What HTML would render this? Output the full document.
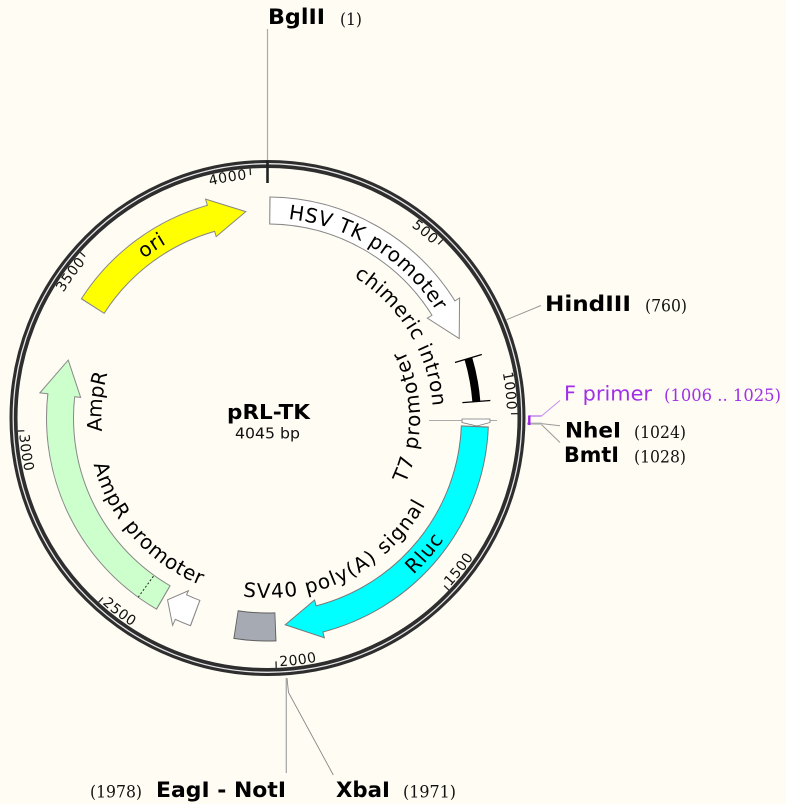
<!DOCTYPE html>
<html><head><meta charset="utf-8">
<style>
html,body{margin:0;padding:0;background:#fffcf3;}
svg{display:block;}
text{font-family:"DejaVu Sans","Liberation Sans",sans-serif;}
.num{font-family:"DejaVu Serif","Liberation Serif",serif;font-size:17px;fill:#111;}
.site{font-weight:bold;font-size:21px;fill:#000;}
.tk{font-size:14px;letter-spacing:0.6px;fill:#111;}
.fl{font-size:20px;fill:#000;}
</style></head><body>
<svg width="786" height="804" viewBox="0 0 786 804" xmlns="http://www.w3.org/2000/svg">
<defs>
<path id="tw" d="M267.5,178.5 A239.5,239.5 0 1 1 267.5,657.5 A239.5,239.5 0 1 1 267.5,178.5 A239.5,239.5 0 1 1 267.5,657.5 A239.5,239.5 0 1 1 267.5,178.5"/>
<path id="tc" d="M267.5,666.5 A248.5,248.5 0 1 0 267.5,169.5 A248.5,248.5 0 1 0 267.5,666.5 A248.5,248.5 0 1 0 267.5,169.5 A248.5,248.5 0 1 0 267.5,666.5"/>
<path id="hsv" d="M267.5,218 A200,200 0 1 1 267.5,618 A200,200 0 1 1 267.5,218 A200,200 0 1 1 267.5,618 A200,200 0 1 1 267.5,218"/>
<path id="chi" d="M267.5,252.5 A165.5,165.5 0 1 1 267.5,583.5 A165.5,165.5 0 1 1 267.5,252.5 A165.5,165.5 0 1 1 267.5,583.5 A165.5,165.5 0 1 1 267.5,252.5"/>
<path id="t7" d="M267.5,570.5 A152.5,152.5 0 1 0 267.5,265.5 A152.5,152.5 0 1 0 267.5,570.5 A152.5,152.5 0 1 0 267.5,265.5 A152.5,152.5 0 1 0 267.5,570.5"/>
<path id="rl" d="M267.5,632 A214,214 0 1 0 267.5,204 A214,214 0 1 0 267.5,632 A214,214 0 1 0 267.5,204 A214,214 0 1 0 267.5,632"/>
<path id="sv" d="M267.5,598 A180,180 0 1 0 267.5,238 A180,180 0 1 0 267.5,598 A180,180 0 1 0 267.5,238 A180,180 0 1 0 267.5,598"/>
<path id="amp" d="M267.5,252 A166,166 0 1 1 267.5,584 A166,166 0 1 1 267.5,252 A166,166 0 1 1 267.5,584 A166,166 0 1 1 267.5,252"/>
<path id="ori" d="M267.5,216.5 A201.5,201.5 0 1 1 267.5,619.5 A201.5,201.5 0 1 1 267.5,216.5 A201.5,201.5 0 1 1 267.5,619.5 A201.5,201.5 0 1 1 267.5,216.5"/>
</defs>

<rect x="0" y="0" width="786" height="804" fill="#fffcf3"/>

<!-- ring -->
<circle cx="267.5" cy="418" r="254" fill="none" stroke="#2e2e2e" stroke-width="8"/>
<circle cx="267.5" cy="418" r="254.3" fill="none" stroke="#e6e6e6" stroke-width="1.3"/>

<!-- ticks -->
<g stroke="#222" stroke-width="1.3">
<line x1="267.5" y1="168" x2="267.5" y2="174.5" transform="rotate(44.5 267.5 418)"/>
<line x1="267.5" y1="168" x2="267.5" y2="174.5" transform="rotate(89 267.5 418)"/>
<line x1="267.5" y1="168" x2="267.5" y2="174.5" transform="rotate(133.5 267.5 418)"/>
<line x1="267.5" y1="168" x2="267.5" y2="174.5" transform="rotate(178 267.5 418)"/>
<line x1="267.5" y1="168" x2="267.5" y2="174.5" transform="rotate(222.5 267.5 418)"/>
<line x1="267.5" y1="168" x2="267.5" y2="174.5" transform="rotate(267 267.5 418)"/>
<line x1="267.5" y1="168" x2="267.5" y2="174.5" transform="rotate(311.5 267.5 418)"/>
<line x1="267.5" y1="168" x2="267.5" y2="174.5" transform="rotate(356 267.5 418)"/>
</g>
<line x1="267.5" y1="161" x2="267.5" y2="183" stroke="#222" stroke-width="2.6"/>

<!-- tick labels -->
<text class="tk" text-anchor="end"><textPath href="#tw" startOffset="56.07%">500</textPath></text>
<text class="tk" text-anchor="end"><textPath href="#tw" startOffset="62.25%">1000</textPath></text>
<text class="tk" text-anchor="end"><textPath href="#tw" startOffset="93.15%">3500</textPath></text>
<text class="tk" text-anchor="end"><textPath href="#tw" startOffset="99.33%">4000</textPath></text>
<text class="tk" text-anchor="start"><textPath href="#tc" startOffset="56.57%">1500</textPath></text>
<text class="tk" text-anchor="start"><textPath href="#tc" startOffset="50.39%">2000</textPath></text>
<text class="tk" text-anchor="start"><textPath href="#tc" startOffset="44.21%">2500</textPath></text>
<text class="tk" text-anchor="start"><textPath href="#tc" startOffset="38.03%">3000</textPath></text>

<!-- HSV TK promoter -->
<circle cx="267.5" cy="418" r="207.5" fill="none" stroke="#888" stroke-width="28" pathLength="360" stroke-dasharray="57.5 720" transform="rotate(-89.5 267.5 418)"/>
<g transform="rotate(58 267.5 418)"><polygon points="267.5,191.5 301.75,213.35 267.5,229.5" fill="#fff" stroke="#888" stroke-width="1"/></g>
<circle cx="267.5" cy="418" r="207.5" fill="none" stroke="#fff" stroke-width="26" pathLength="360" stroke-dasharray="58.3 720" transform="rotate(-89.2 267.5 418)"/>

<!-- Rluc -->
<circle cx="267.5" cy="418" r="207.5" fill="none" stroke="#777" stroke-width="28" pathLength="360" stroke-dasharray="73.3 720" transform="rotate(2.2 267.5 418)"/>
<g transform="rotate(165.5 267.5 418)"><polygon points="267.5,191 302.1,213.4 267.5,230" fill="#00ffff" stroke="#777" stroke-width="1"/></g>
<circle cx="267.5" cy="418" r="207.5" fill="none" stroke="#00ffff" stroke-width="26" pathLength="360" stroke-dasharray="74.1 720" transform="rotate(2.5 267.5 418)"/>

<!-- AmpR -->
<circle cx="267.5" cy="418" r="207.5" fill="none" stroke="#888" stroke-width="28" pathLength="360" stroke-dasharray="66.3 720" transform="rotate(120 267.5 418)"/>
<g transform="rotate(276.3 267.5 418)"><polygon points="267.5,189 303.18,213.59 267.5,230" fill="#ccffcc" stroke="#888" stroke-width="1"/></g>
<circle cx="267.5" cy="418" r="207.5" fill="none" stroke="#ccffcc" stroke-width="26" pathLength="360" stroke-dasharray="66.9 720" transform="rotate(120.3 267.5 418)"/>
<line x1="267.5" y1="197" x2="267.5" y2="224" stroke="#222" stroke-width="1" stroke-dasharray="2 2" transform="rotate(215.8 267.5 418)"/>

<!-- ori -->
<circle cx="267.5" cy="418" r="207.5" fill="none" stroke="#888" stroke-width="28" pathLength="360" stroke-dasharray="41.7 720" transform="rotate(212.5 267.5 418)"/>
<g transform="rotate(344.2 267.5 418)"><polygon points="267.5,190.5 302.82,213.53 267.5,229.5" fill="#ffff00" stroke="#888" stroke-width="1"/></g>
<circle cx="267.5" cy="418" r="207.5" fill="none" stroke="#ffff00" stroke-width="26" pathLength="360" stroke-dasharray="42.3 720" transform="rotate(212.8 267.5 418)"/>

<!-- AmpR promoter -->
<circle cx="267.5" cy="418" r="208" fill="none" stroke="#888" stroke-width="28" pathLength="360" stroke-dasharray="4.4 720" transform="rotate(110.2 267.5 418)"/>
<g transform="rotate(204.6 267.5 418)"><polygon points="267.5,190 282.7,211.06 267.5,228" fill="#fff" stroke="#888" stroke-width="1"/></g>
<circle cx="267.5" cy="418" r="208" fill="none" stroke="#fff" stroke-width="26" pathLength="360" stroke-dasharray="4.9 720" transform="rotate(110.5 267.5 418)"/>

<!-- SV40 poly(A) box -->
<circle cx="267.5" cy="418" r="209" fill="none" stroke="#5f5f5f" stroke-width="29" pathLength="360" stroke-dasharray="11.1 720" transform="rotate(87.7 267.5 418)"/>
<circle cx="267.5" cy="418" r="209" fill="none" stroke="#a6aab3" stroke-width="27" pathLength="360" stroke-dasharray="10.6 720" transform="rotate(87.95 267.5 418)"/>

<!-- chimeric intron -->
<circle cx="267.5" cy="418" r="209.5" fill="none" stroke="#000" stroke-width="8" pathLength="360" stroke-dasharray="12 720" transform="rotate(-16.5 267.5 418)"/>
<line x1="267.5" y1="194.5" x2="267.5" y2="222.5" stroke="#000" stroke-width="1.3" transform="rotate(73.5 267.5 418)"/>
<line x1="267.5" y1="194.5" x2="267.5" y2="222.5" stroke="#000" stroke-width="1.3" transform="rotate(85.5 267.5 418)"/>

<!-- T7 promoter feature -->
<line x1="429" y1="420.5" x2="497" y2="420.5" stroke="#aaa" stroke-width="1"/>
<polygon points="462,419 490,419 490,422.5 477,426 462,422.5" fill="#fff" stroke="#777" stroke-width="0.8"/>

<!-- feature labels -->
<text class="fl" text-anchor="middle" style="letter-spacing:0.6px"><textPath href="#hsv" startOffset="54.44%">HSV TK promoter</textPath></text>
<text class="fl" text-anchor="middle" style="letter-spacing:0.45px"><textPath href="#chi" startOffset="58.16%">chimeric intron</textPath></text>
<text class="fl" text-anchor="middle" style="letter-spacing:1.4px"><textPath href="#t7" startOffset="62.6%">T7 promoter</textPath></text>
<text class="fl" text-anchor="middle" style="letter-spacing:1.1px"><textPath href="#rl" startOffset="56.85%">Rluc</textPath></text>
<text class="fl" text-anchor="middle" style="letter-spacing:1.2px"><textPath href="#sv" startOffset="53.73%">SV40 poly(A) signal</textPath></text>
<text class="fl" text-anchor="middle" style="letter-spacing:0.66px"><textPath href="#sv" startOffset="43.28%">AmpR promoter</textPath></text>
<text class="fl" text-anchor="middle" style="letter-spacing:-0.3px"><textPath href="#amp" startOffset="88.26%">AmpR</textPath></text>
<text class="fl" text-anchor="middle" style="letter-spacing:0.5px"><textPath href="#ori" startOffset="95.29%">ori</textPath></text>

<!-- center -->
<text x="268.5" y="419" text-anchor="middle" font-weight="bold" font-size="20" textLength="83" lengthAdjust="spacingAndGlyphs" fill="#000">pRL-TK</text>
<text x="267.5" y="438.5" text-anchor="middle" font-size="15" textLength="65" lengthAdjust="spacingAndGlyphs" fill="#111">4045 bp</text>

<!-- site connector lines -->
<line x1="267.5" y1="29" x2="267.5" y2="160" stroke="#aaa" stroke-width="1.2"/>
<line x1="506.6" y1="319.7" x2="541" y2="305.5" stroke="#999" stroke-width="1"/>
<line x1="527" y1="423.6" x2="541.5" y2="423.6" stroke="#aaa" stroke-width="2"/>
<line x1="541.5" y1="423.6" x2="560" y2="425.8" stroke="#999" stroke-width="1"/>
<line x1="541.5" y1="424.6" x2="560" y2="442.5" stroke="#999" stroke-width="1"/>
<line x1="529" y1="416" x2="541.5" y2="416" stroke="#c58ef0" stroke-width="1.6"/>
<line x1="541.5" y1="416" x2="560" y2="400.5" stroke="#c58ef0" stroke-width="1"/>
<line x1="529.3" y1="415.5" x2="529.3" y2="425" stroke="#a020f0" stroke-width="2.4"/>
<line x1="286.3" y1="678" x2="286.3" y2="773" stroke="#aaa" stroke-width="1.3"/>
<polyline points="287,678 288.5,692.5 333.3,775" fill="none" stroke="#888" stroke-width="0.9"/>

<!-- site labels -->
<text class="site" x="268" y="24" textLength="57" lengthAdjust="spacingAndGlyphs">BglII</text>
<text class="num" x="340" y="25" textLength="22" lengthAdjust="spacingAndGlyphs">(1)</text>
<text class="site" x="545" y="311" textLength="86" lengthAdjust="spacingAndGlyphs">HindIII</text>
<text class="num" x="645" y="311.5" textLength="42" lengthAdjust="spacingAndGlyphs">(760)</text>
<text x="564" y="400.5" font-size="20" fill="#a030e8" textLength="88" lengthAdjust="spacingAndGlyphs">F primer</text>
<text class="num" x="664" y="401" style="fill:#a030e8" textLength="117" lengthAdjust="spacingAndGlyphs">(1006 .. 1025)</text>
<text class="site" x="565" y="437.5" textLength="56" lengthAdjust="spacingAndGlyphs">NheI</text>
<text class="num" x="634" y="438" textLength="52" lengthAdjust="spacingAndGlyphs">(1024)</text>
<text class="site" x="564" y="462" textLength="55" lengthAdjust="spacingAndGlyphs">BmtI</text>
<text class="num" x="634" y="462.5" textLength="52" lengthAdjust="spacingAndGlyphs">(1028)</text>
<text class="num" x="90" y="797.5" textLength="52" lengthAdjust="spacingAndGlyphs">(1978)</text>
<text class="site" x="156" y="797" textLength="130" lengthAdjust="spacingAndGlyphs">EagI - NotI</text>
<text class="site" x="336" y="797" textLength="54" lengthAdjust="spacingAndGlyphs">XbaI</text>
<text class="num" x="403" y="797.5" textLength="53" lengthAdjust="spacingAndGlyphs">(1971)</text>
</svg>
</body></html>
